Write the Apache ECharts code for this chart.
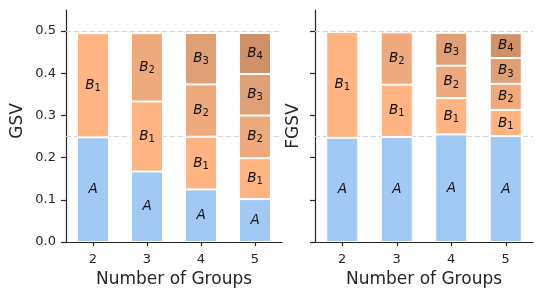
<!DOCTYPE html>
<html><head><meta charset="utf-8">
<script src="https://cdn.jsdelivr.net/npm/echarts@6/dist/echarts.min.js"></script>
<style>html,body{margin:0;padding:0;background:#fff}#c{width:541px;height:299px}</style>
</head><body><div id="c"></div>
<script>
const categories = ['2', '3', '4', '5'];
const yTicks = [0, 0.1, 0.2, 0.3, 0.4, 0.5];
const refLines = [0.25, 0.497];

const gsvA  = [0.248, 0.167, 0.1245, 0.1017];
const gsvB1 = [0.247, 0.166, 0.125, 0.097];
const gsvB2 = [null, 0.162, 0.124, 0.101];
const gsvB3 = [null, null, 0.122, 0.0986];
const gsvB4 = [null, null, null, 0.0974];

const fgsvA  = [0.247, 0.249, 0.255, 0.251];
const fgsvB1 = [0.251, 0.124, 0.086, 0.062];
const fgsvB2 = [null, 0.124, 0.077, 0.062];
const fgsvB3 = [null, null, 0.078, 0.061];
const fgsvB4 = [null, null, null, 0.059];

const segNames = ['A', 'B1', 'B2', 'B3', 'B4'];
const segColors = ['#a1c9f4', '#ffb482', '#eeaa7c', '#e0a076', '#d19168'];

const font = 'DejaVu Sans';
const axisColor = '#262626';

function labelFmt(name) {
  if (name === 'A') return '{b|A}';
  return '{b|B}{s|' + name.slice(1) + '}';
}

function makeSeries(idx, arrays) {
  return arrays.map((arr, k) => ({
    type: 'bar',
    name: segNames[k],
    xAxisIndex: idx, yAxisIndex: idx,
    stack: 'tot' + idx,
    barWidth: 32,
    z: 2,
    data: arr,
    itemStyle: { color: segColors[k], borderColor: '#ffffff', borderWidth: 1 },
    label: {
      show: true, position: 'inside',
      formatter: labelFmt(segNames[k]),
      color: '#111',
      rich: {
        b: { fontFamily: font, fontStyle: 'italic', fontSize: 13.5, lineHeight: 16, color: '#111' },
        s: { fontFamily: font, fontSize: 10, lineHeight: 10, verticalAlign: 'bottom', color: '#111' }
      }
    },
    markLine: k === 0 ? {
      silent: true, symbol: 'none', z: 1,
      label: { show: false },
      lineStyle: { type: [5, 3], color: '#d4d4d4', width: 1 },
      data: refLines.map(v => ({ yAxis: v }))
    } : undefined
  }));
}

function xAxis(idx) {
  return {
    type: 'category', gridIndex: idx, data: categories,
    name: 'Number of Groups', nameLocation: 'middle', nameGap: 29,
    nameTextStyle: { fontFamily: font, fontSize: 17, color: axisColor },
    axisLine: { lineStyle: { color: axisColor, width: 1.2 } },
    axisTick: { show: true, alignWithLabel: true, length: 4, lineStyle: { color: axisColor, width: 1.2 } },
    axisLabel: { fontFamily: font, fontSize: 13, color: axisColor, margin: 11 }
  };
}

function yAxis(idx, name, showLabels, gap, pad) {
  return {
    type: 'value', gridIndex: idx, min: 0, max: 0.55, interval: 0.1,
    name: name, nameLocation: 'middle', nameGap: gap,
    nameTextStyle: { fontFamily: font, fontSize: 17, color: axisColor, padding: pad },
    splitLine: { show: false },
    axisLine: { show: true, lineStyle: { color: axisColor, width: 1.2 } },
    axisTick: { show: true, length: 5, customValues: yTicks, lineStyle: { color: axisColor, width: 1.2 } },
    axisLabel: { show: showLabels, customValues: yTicks, fontFamily: font, fontSize: 13, color: axisColor, margin: 10,
      formatter: v => v.toFixed(1) }
  };
}

const chart = echarts.init(document.getElementById('c'), null, { renderer: 'canvas' });
chart.setOption({
  animation: false,
  grid: [
    { left: 66, top: 10, width: 216, height: 232 },
    { left: 315, top: 10, width: 218, height: 232 }
  ],
  xAxis: [xAxis(0), xAxis(1)],
  yAxis: [yAxis(0, 'GSV', true, 40, [0, 0, 0, 10]), yAxis(1, 'FGSV', false, 13, [0, 0, 0, 0])],
  series: [
    ...makeSeries(0, [gsvA, gsvB1, gsvB2, gsvB3, gsvB4]),
    ...makeSeries(1, [fgsvA, fgsvB1, fgsvB2, fgsvB3, fgsvB4])
  ]
});
</script></body></html>
